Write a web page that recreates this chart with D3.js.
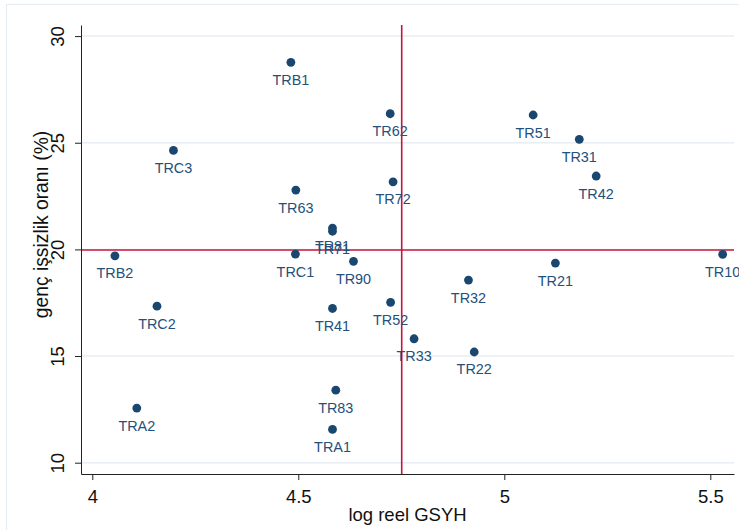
<!DOCTYPE html>
<html>
<head>
<meta charset="utf-8">
<script src="https://cdn.jsdelivr.net/npm/d3@7"></script>
<style>
  html, body { margin: 0; padding: 0; background: #fff; }
  svg { display: block; font-family: "Liberation Sans", Arial, Helvetica, sans-serif; }
</style>
</head>
<body>
<svg id="chart" width="739" height="530"></svg>
<script>
// ---- data ----
const regions = ["TRB1","TRC3","TR63","TR81","TR71","TRB2","TRC1","TR90","TRC2","TR41","TR83","TRA2","TRA1",
                 "TR62","TR72","TR51","TR31","TR42","TR10","TR21","TR32","TR52","TR33","TR22"];
const logGDP   = [4.482,4.197,4.494,4.583,4.583,4.055,4.493,4.634,4.157,4.583,4.591,4.108,4.583,
                  4.723,4.730,5.070,5.182,5.223,5.530,5.124,4.913,4.724,4.781,4.927];
const youthUnemp = [28.77,24.64,22.78,21.00,20.85,19.70,19.78,19.44,17.34,17.23,13.40,12.56,11.56,
                    26.36,23.17,26.30,25.16,23.44,19.77,19.36,18.56,17.52,15.81,15.19];
const xTicks = [4, 4.5, 5, 5.5];
const yTicks = [10, 15, 20, 25, 30];
const xTickLabels = ["4", "4.5", "5", "5.5"];
const yTickLabels = ["10", "15", "20", "25", "30"];
const refX = [4.751];   // mean log GDP
const refY = [19.97];   // mean youth unemployment
const xTitle = ["log reel GSYH"];
const yTitle = ["genç işsizlik oranı (%)"];

// ---- layout ----
const svg = d3.select("#chart");
const L = 81, R = 734, T = 25, B = 474;
const navy = "#1a476f", labelColor = "#24507a", red = "#c8143c", grid = "#e8eef3";

// outer graph-region frame
svg.append("rect").attr("x", 6.5).attr("y", 4.5).attr("width", 800).attr("height", 600)
  .attr("fill", "#fff").attr("stroke", "#e6edf2").attr("stroke-width", 1.2);

const x = d3.scaleLinear().domain([3.9726, 5.5575]).range([L, R]);
const y = d3.scaleLinear().domain([9.47, 30.52]).range([B, T]);

// gridlines
svg.append("g").selectAll("line").data(yTicks).join("line")
  .attr("x1", L).attr("x2", R)
  .attr("y1", d => y(d)).attr("y2", d => y(d))
  .attr("stroke", grid).attr("stroke-width", 1.5);

// reference lines
svg.append("g").selectAll("line").data(refY).join("line")
  .attr("x1", L).attr("x2", R).attr("y1", d => y(d)).attr("y2", d => y(d))
  .attr("stroke", red).attr("stroke-width", 1.6);
svg.append("g").selectAll("line").data(refX).join("line")
  .attr("y1", T).attr("y2", B).attr("x1", d => x(d)).attr("x2", d => x(d))
  .attr("stroke", red).attr("stroke-width", 1.6);

// axes
const xAxis = d3.axisBottom(x).tickValues(xTicks).tickSize(6)
  .tickFormat((d, i) => xTickLabels[i]).tickSizeOuter(0);
const gx = svg.append("g").attr("transform", `translate(0,${B})`).call(xAxis);
gx.select(".domain").attr("stroke", "#222");
gx.selectAll(".tick line").attr("stroke", "#222");
gx.selectAll(".tick text").attr("font-size", 18.5).attr("fill", "#111")
  .attr("font-family", "Liberation Sans, Arial, sans-serif")
  .attr("dy", null).attr("y", 29);

const yAxis = d3.axisLeft(y).tickValues(yTicks).tickSize(6)
  .tickFormat((d, i) => yTickLabels[i]).tickSizeOuter(0);
const gy = svg.append("g").attr("transform", `translate(${L},0)`).call(yAxis);
gy.select(".domain").attr("stroke", "#222");
gy.selectAll(".tick line").attr("stroke", "#222");
gy.selectAll(".tick text").attr("font-size", 18.5).attr("fill", "#111")
  .attr("font-family", "Liberation Sans, Arial, sans-serif")
  .attr("x", null).attr("dy", null)
  .attr("text-anchor", "middle")
  .attr("transform", "translate(-17,0) rotate(-90)");

// axis titles
svg.append("text").attr("x", (L + R) / 2).attr("y", 521)
  .attr("text-anchor", "middle").attr("font-size", 18.5).attr("fill", "#111")
  .text(xTitle[0]);
svg.append("text").attr("transform", "translate(47.5,224.5) rotate(-90)")
  .attr("text-anchor", "middle").attr("font-size", 19.3).attr("fill", "#111")
  .text(yTitle[0]);

// points
const pts = regions.map((r, i) => ({ r, gx: logGDP[i], u: youthUnemp[i] }));
svg.append("g").selectAll("circle").data(pts).join("circle")
  .attr("cx", d => x(d.gx)).attr("cy", d => y(d.u)).attr("r", 4.4)
  .attr("fill", navy);

svg.append("g").selectAll("text").data(pts).join("text")
  .attr("x", d => x(d.gx)).attr("y", d => y(d.u) + 22.5)
  .attr("text-anchor", "middle").attr("font-size", 14.4).attr("fill", labelColor)
  .text(d => d.r);
</script>
</body>
</html>
